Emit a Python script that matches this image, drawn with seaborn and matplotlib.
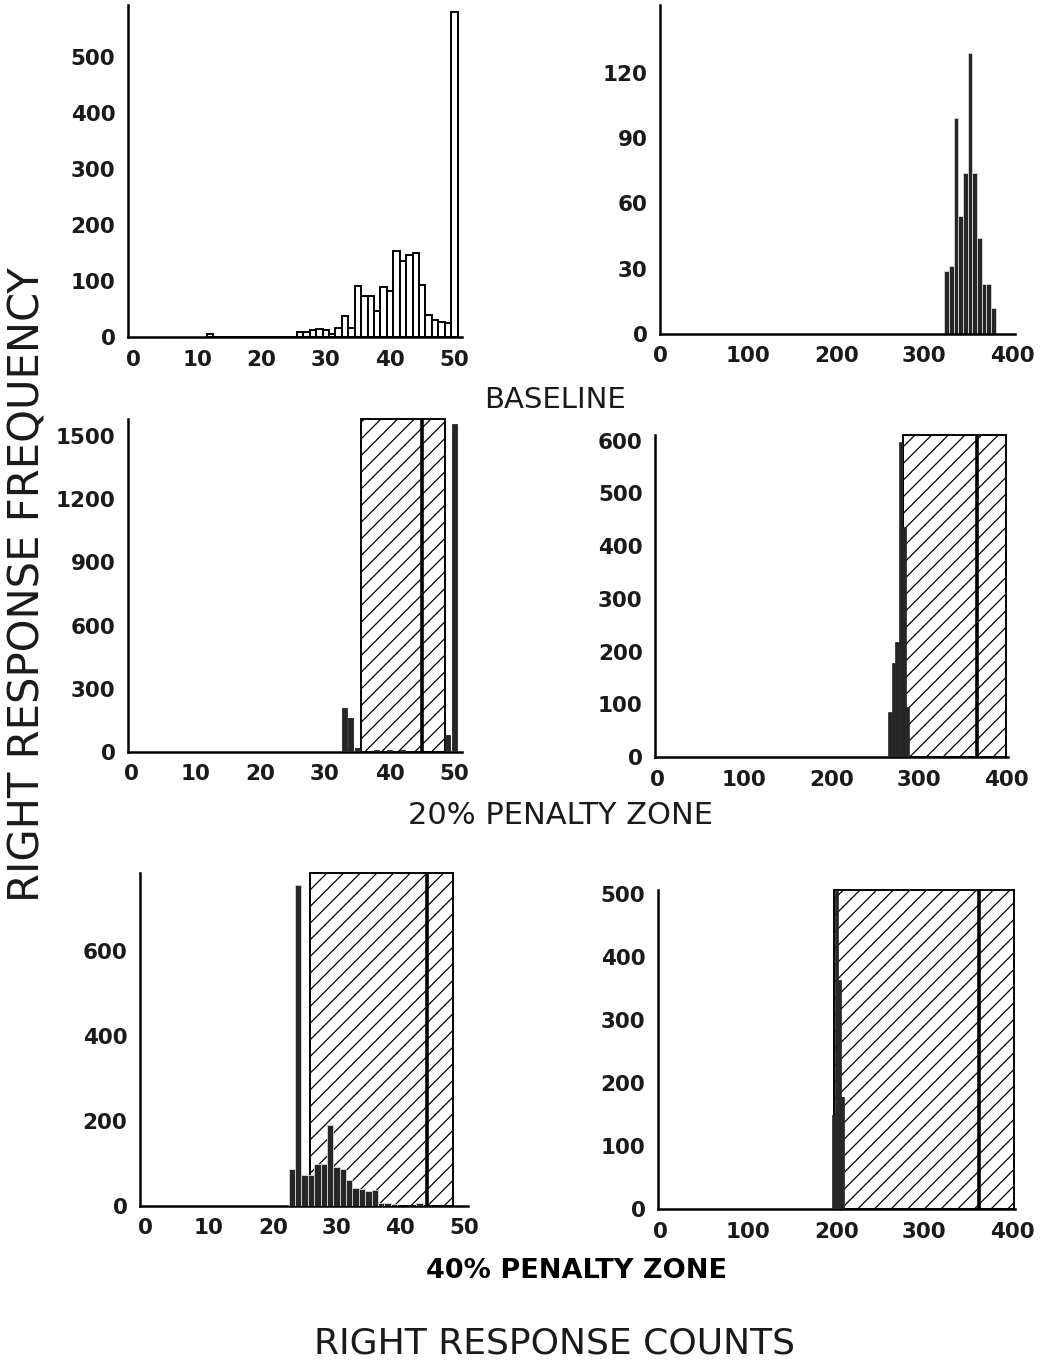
import matplotlib
matplotlib.use("Agg")
import matplotlib.pyplot as plt
import seaborn as sns

# ---------------- data ----------------
# Baseline, 50-trial sessions (top left)
base50_counts = [12, 26, 27, 28, 29, 30, 31, 32, 33, 34, 35, 36, 37, 38, 39,
                 40, 41, 42, 43, 44, 45, 46, 47, 48, 49, 50]
base50_freq = [5, 9, 9, 12, 14, 12, 5, 16, 37, 16, 91, 73, 73, 46, 90,
               82, 153, 136, 146, 150, 93, 39, 30, 27, 25, 580]

# Baseline, 400-trial sessions (top right)
base400_counts = [325, 331, 336, 341, 347, 352, 357, 363, 368, 373, 378]
base400_freq = [29, 31, 99, 54, 74, 129, 74, 44, 23, 23, 12]

# 20% penalty zone, 50 trials (middle left)
p20_50_counts = [33, 34, 35, 38, 40, 42, 49, 50]
p20_50_freq = [207, 160, 20, 10, 10, 10, 79, 1557]
p20_50_zone = (35.6, 48.5)
p20_50_line = 45

# 20% penalty zone, 400 trials (middle right)
p20_400_counts = [267, 271, 275, 279, 283, 287]
p20_400_freq = [86, 178, 219, 597, 437, 95]
p20_400_zone = (282.3, 400)
p20_400_line = 367

# 40% penalty zone, 50 trials (bottom left)
p40_50_counts = [23, 24, 25, 26, 27, 28, 29, 30, 31, 32, 33, 34, 35, 36,
                 37, 38, 39, 43]
p40_50_freq = [86, 755, 73, 73, 99, 99, 190, 92, 88, 62, 42, 40, 35, 38,
               8, 6, 5, 8]
p40_50_zone = (25.9, 48.2)
p40_50_line = 44.1

# 40% penalty zone, 400 trials (bottom right)
p40_400_counts = [197, 200, 204, 208]
p40_400_freq = [149, 505, 363, 178]
p40_400_zone = (197, 402)
p40_400_line = 362

# tick labels
ticks50 = [0, 10, 20, 30, 40, 50]
ticks400 = [0, 100, 200, 300, 400]

# ---------------- style ----------------
sns.set_theme(style="white")
plt.rcParams["font.family"] = ["DejaVu Sans"]
plt.rcParams["hatch.linewidth"] = 0.9
plt.rcParams["hatch.color"] = "black"

W, H = 1048, 1362
fig = plt.figure(figsize=(W / 100, H / 100), dpi=100)
fig.patch.set_facecolor("white")


def add_ax(l, r, b, t):
    return fig.add_axes([l / W, 1 - b / H, (r - l) / W, (b - t) / H])


def style(ax, xlim, ylim, xticks, yticks):
    ax.set_xlim(*xlim)
    ax.set_ylim(*ylim)
    ax.set_xticks(xticks)
    ax.set_yticks(yticks)
    for s in ("top", "right"):
        ax.spines[s].set_visible(False)
    for s in ("left", "bottom"):
        ax.spines[s].set_color("black")
        ax.spines[s].set_linewidth(1.8)
    ax.tick_params(axis="both", direction="in", length=7, width=1.8,
                   color="black", labelsize=15.5, pad=9, labelcolor="#1a1a1a")
    for lab in ax.get_xticklabels() + ax.get_yticklabels():
        lab.set_fontweight("bold")
    ax.set_xlabel("")
    ax.set_ylabel("")
    ax.set_facecolor("white")
    ax.grid(False)


def zone(ax, span, line):
    ax.axvspan(span[0], span[1], facecolor="none", edgecolor="black",
               hatch="//", linewidth=1.4, zorder=1, clip_on=False)
    ax.axvline(line, color="black", linewidth=2.6, zorder=1)


DARK = "#262626"

# top left
ax = add_ax(128, 462, 337, 5)
sns.histplot(x=base50_counts, weights=base50_freq, discrete=True, shrink=1,
             color="white", edgecolor="black", linewidth=1.4, alpha=1, ax=ax)
style(ax, (-0.8, 51.2), (0, 593), ticks50, [0, 100, 200, 300, 400, 500])

# top right
ax = add_ax(660, 1015, 334, 5)
sns.histplot(x=base400_counts, weights=base400_freq, bins=11,
             binrange=(322.7, 381.0), color=DARK, edgecolor="#d8d8d8",
             linewidth=0.6, alpha=1, ax=ax)
style(ax, (0, 403), (0, 151), ticks400, [0, 30, 60, 90, 120])

# middle left
ax = add_ax(128, 462, 752, 419)
zone(ax, p20_50_zone, p20_50_line)
sns.histplot(x=p20_50_counts, weights=p20_50_freq, discrete=True, shrink=0.75,
             color=DARK, edgecolor=DARK, linewidth=0.6, alpha=1, ax=ax,
             zorder=3)
style(ax, (-0.46, 51.2), (0, 1580), ticks50, [0, 300, 600, 900, 1200, 1500])

# middle right
ax = add_ax(655, 1008, 757, 435)
zone(ax, p20_400_zone, p20_400_line)
sns.histplot(x=p20_400_counts, weights=p20_400_freq, bins=6,
             binrange=(265, 289), color=DARK, edgecolor=DARK,
             linewidth=0.5, alpha=1, ax=ax, zorder=3)
style(ax, (-2.3, 402), (0, 611), ticks400, [0, 100, 200, 300, 400, 500, 600])

# bottom left
ax = add_ax(140, 468, 1206, 873)
zone(ax, p40_50_zone, p40_50_line)
sns.histplot(x=p40_50_counts, weights=p40_50_freq, discrete=True, shrink=1,
             color=DARK, edgecolor="#d8d8d8", linewidth=0.6, alpha=1, ax=ax,
             zorder=3)
style(ax, (-0.8, 50.6), (0, 783), ticks50, [0, 200, 400, 600])

# bottom right
ax = add_ax(658, 1015, 1209, 890)
zone(ax, p40_400_zone, p40_400_line)
sns.histplot(x=p40_400_counts, weights=p40_400_freq, bins=4,
             binrange=(195, 209.4), color=DARK, edgecolor=DARK,
             linewidth=0.5, alpha=1, ax=ax, zorder=3)
style(ax, (-2.3, 403), (0, 506), ticks400, [0, 100, 200, 300, 400, 500])

# ---------------- texts ----------------
tc = "#1a1a1a"
fig.text(555 / W, 1 - 400 / H, "BASELINE", ha="center", va="center",
         fontsize=21, color=tc)
fig.text(560 / W, 1 - 816 / H, "20% PENALTY ZONE", ha="center", va="center",
         fontsize=22, color=tc)
fig.text(577 / W, 1 - 1271 / H, "40% PENALTY ZONE", ha="center", va="center",
         fontsize=19.5, fontweight="bold", color="black")
fig.text(555 / W, 1 - 1343 / H, "RIGHT RESPONSE COUNTS", ha="center",
         va="center", fontsize=26, color=tc)
fig.text(28 / W, 1 - 585 / H, "RIGHT RESPONSE FREQUENCY", ha="center",
         va="center", rotation=90, fontsize=30, color=tc)

fig.savefig("out.png", dpi=100, facecolor="white")
